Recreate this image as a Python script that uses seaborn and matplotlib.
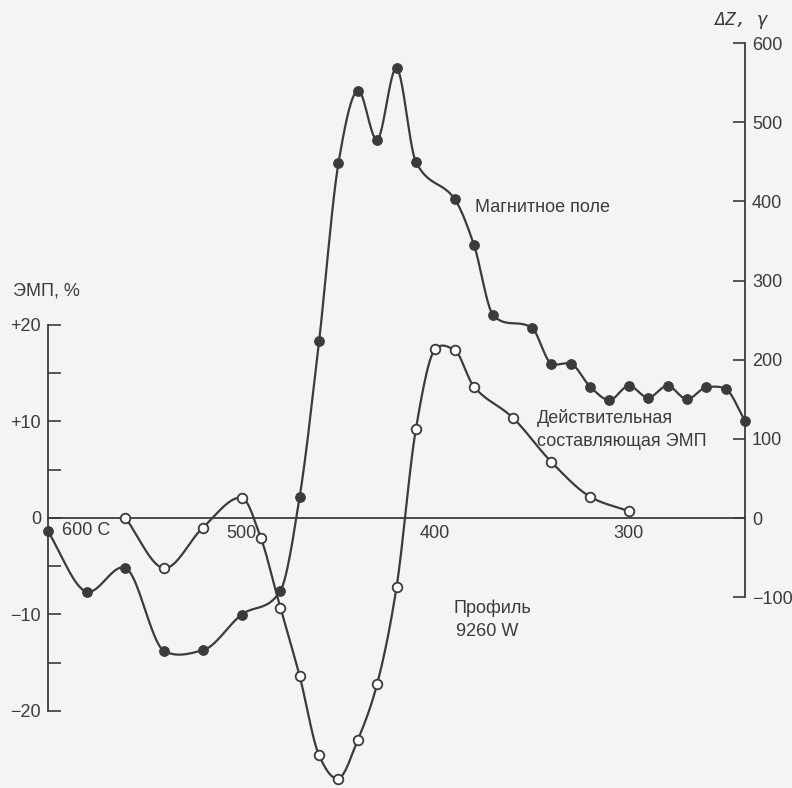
import numpy as np
import pandas as pd
import matplotlib
matplotlib.use("Agg")
import matplotlib.pyplot as plt
import seaborn as sns

# Profile 9260 W: picket stations and measured values
mag_station = [600, 580, 560, 540, 520, 500, 480, 470, 460, 450, 440, 430, 420, 410,
               390, 380, 370, 350, 340, 330, 320, 310, 300, 290, 280, 270, 260, 250, 240]
mag_dz = [-17, -93, -63, -168, -167, -122, -92, 27, 223, 448, 540, 478, 568, 450,
          403, 345, 256, 240, 195, 195, 166, 149, 167, 152, 167, 150, 165, 163, 123]

emp_station = [560, 540, 520, 500, 490, 480, 470, 460, 450, 440, 430, 420, 410,
               400, 390, 380, 360, 340, 320, 300]
emp_real = [0.0, -5.2, -1.0, 2.1, -2.1, -9.3, -16.4, -24.6, -27.0, -23.0, -17.2, -7.2,
            9.2, 17.5, 17.4, 13.6, 10.4, 5.8, 2.2, 0.7]

left_ticks = [-20, -15, -10, -5, 0, 5, 10, 15, 20]
left_labels = ["\u221220", "", "\u221210", "", "0", "", "+10", "", "+20"]
right_ticks = [-100, 0, 100, 200, 300, 400, 500, 600]
right_labels = ["\u2212100", "0", "100", "200", "300", "400", "500", "600"]
x_ticks = [500, 400, 300]
x_labels = ["500", "400", "300"]

INK = "#3b3b3b"
PAPER = "#f4f4f3"
FS = 13


def smooth_curve(x, y, n=24):
    """Smooth x-monotone curve through the measured points.

    Cubic Hermite segments; the slope at each point is a blend of the
    Catmull-Rom slope and the shape-preserving (PCHIP) slope, which keeps
    the rounded tops but avoids large bulges next to sharp bends.
    """
    x = np.asarray(x, float)
    y = np.asarray(y, float)
    h = np.diff(x)
    d = np.diff(y) / h
    cr = np.empty_like(y)
    cr[1:-1] = (y[2:] - y[:-2]) / (x[2:] - x[:-2])
    cr[0], cr[-1] = d[0], d[-1]
    pc = np.empty_like(y)
    pc[0], pc[-1] = d[0], d[-1]
    for k in range(1, len(x) - 1):
        if d[k - 1] * d[k] <= 0:
            pc[k] = 0.0
        else:
            w1 = 2 * h[k] + h[k - 1]
            w2 = h[k] + 2 * h[k - 1]
            pc[k] = (w1 + w2) / (w1 / d[k - 1] + w2 / d[k])
    m = 0.5 * (cr + pc)
    t = np.linspace(0, 1, n, endpoint=False)
    h00 = 2 * t**3 - 3 * t**2 + 1
    h10 = t**3 - 2 * t**2 + t
    h01 = -2 * t**3 + 3 * t**2
    h11 = t**3 - t**2
    xs, ys = [], []
    for i in range(len(x) - 1):
        xs.append(x[i] + t * h[i])
        ys.append(h00 * y[i] + h10 * h[i] * m[i] + h01 * y[i + 1] + h11 * h[i] * m[i + 1])
    xs.append([x[-1]])
    ys.append([y[-1]])
    return pd.DataFrame({"x": np.concatenate(xs), "y": np.concatenate(ys)})


sns.set_style("white")
plt.rcParams["font.family"] = ["Liberation Sans", "DejaVu Sans"]
plt.rcParams["text.color"] = INK
plt.rcParams["axes.edgecolor"] = INK
plt.rcParams["xtick.color"] = INK
plt.rcParams["ytick.color"] = INK

W, H = 792, 788
fig = plt.figure(figsize=(W / 100, H / 100), dpi=100, facecolor=PAPER)
ax = fig.add_axes([48 / W, 1 - 718 / H, 697 / W, 675 / H])
ax.set_facecolor("none")
ax2 = ax.twinx()
ax2.set_facecolor("none")

ax.set_xlim(600, 240)
ax.set_ylim(-20.73, 49.22)
ax2.set_ylim(-252.6, 600)

emp_df = pd.DataFrame({"station": emp_station, "value": emp_real})
mag_df = pd.DataFrame({"station": mag_station, "value": mag_dz})

# EMP real component, % (left scale), open circles
emp_curve = smooth_curve(emp_station[::-1], emp_real[::-1])
sns.lineplot(data=emp_curve, x="x", y="y", ax=ax, estimator=None, sort=False,
             color=INK, lw=1.6, zorder=3, clip_on=False)
sns.scatterplot(data=emp_df, x="station", y="value", ax=ax, s=48, marker="o",
                facecolor="white", edgecolor=INK, linewidth=1.3, zorder=4,
                clip_on=False)

# Magnetic field dZ, gamma (right scale), filled circles
mag_curve = smooth_curve(mag_station[::-1], mag_dz[::-1])
sns.lineplot(data=mag_curve, x="x", y="y", ax=ax2, estimator=None, sort=False,
             color=INK, lw=1.6, zorder=3, clip_on=False)
sns.scatterplot(data=mag_df, x="station", y="value", ax=ax2, s=48, marker="o",
                color=INK, edgecolor=INK, linewidth=0.8, zorder=4, clip_on=False)

# Axes: left EMP scale, right dZ scale, profile line along zero
for a in (ax, ax2):
    for side in ("top", "right", "left", "bottom"):
        a.spines[side].set_visible(False)
    a.set_xlabel("")
    a.set_ylabel("")

ax.spines["left"].set_visible(True)
ax.spines["left"].set_bounds(-20, 20)
ax.spines["left"].set_linewidth(1.3)
ax.spines["bottom"].set_visible(True)
ax.spines["bottom"].set_position(("data", 0))
ax.spines["bottom"].set_linewidth(1.3)

ax.set_yticks(left_ticks)
ax.set_yticklabels(left_labels)
ax.tick_params(axis="y", direction="in", length=9, width=1.2, pad=5, labelsize=FS)
ax.set_xticks(x_ticks)
ax.set_xticklabels(x_labels)
ax.tick_params(axis="x", length=0, pad=5, labelsize=FS)

ax2.spines["right"].set_visible(True)
ax2.spines["right"].set_bounds(-100, 600)
ax2.spines["right"].set_linewidth(1.3)
ax2.set_yticks(right_ticks)
ax2.set_yticklabels(right_labels)
ax2.tick_params(axis="y", direction="in", length=9, width=1.2, pad=5, labelsize=FS)

# Labels
ax.text(593, -1.35, "600 C", ha="left", va="center", fontsize=FS)
ax.text(379.5, 32.2, "Магнитное поле", ha="left", va="center", fontsize=FS)
ax.text(347.4, 10.36, "Действительная", ha="left", va="center", fontsize=FS)
ax.text(347.4, 7.88, "составляющая ЭМП", ha="left", va="center", fontsize=FS)
ax.text(390.5, -9.33, "Профиль", ha="left", va="center", fontsize=FS)
ax.text(389.5, -11.81, "9260 W", ha="left", va="center", fontsize=FS)

fig.text(13 / W, 1 - 291 / H, "ЭМП, %", ha="left", va="center", fontsize=FS)
fig.text(715 / W, 1 - 20 / H, "ΔZ, γ", ha="left", va="center", fontsize=13,
         style="italic", family=["DejaVu Sans Mono", "DejaVu Sans"])

fig.savefig("out.png", dpi=100, facecolor=PAPER)
